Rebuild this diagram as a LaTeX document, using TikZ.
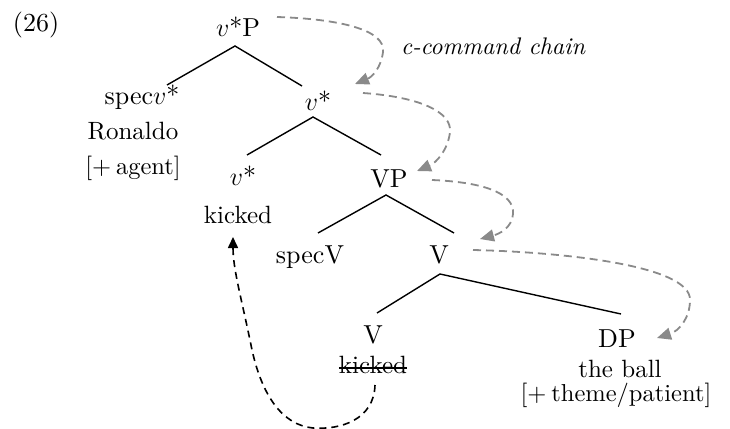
\RequirePackage{fix-cm}
\documentclass[tikz,border=0pt]{standalone}
\usepackage{fontspec}
\setmainfont{lmroman10-regular}[Extension=.otf, ItalicFont=lmroman10-italic]
\usetikzlibrary{arrows.meta}
\definecolor{chaingray}{HTML}{8A8A8A}
\begin{document}
\begin{tikzpicture}[x=1pt,y=1pt,
  lab/.style={anchor=base,inner sep=0pt,font=\fontsize{26}{28}\selectfont},
  word/.style={anchor=base,inner sep=0pt,font=\fontsize{25}{27}\selectfont},
  feat/.style={anchor=base,inner sep=0pt,font=\fontsize{24.5}{26}\selectfont},
  chainlab/.style={anchor=base,inner sep=0pt,font=\fontsize{24}{26}\selectfont\itshape},
  branch/.style={line width=1.4pt},
  strike/.style={line width=1.3pt},
  chain/.style={draw=chaingray, line width=1.8pt, dash pattern=on 8pt off 5pt,
    -{Triangle[length=14pt,width=12pt]}},
  move/.style={draw=black, line width=1.6pt, dash pattern=on 7pt off 5pt,
    -{Triangle[length=11pt,width=10pt]}}]
\useasboundingbox (0,0) rectangle (730,-428);

% labels
\node[lab] (ex) at (36,-32) {(26)};
\node[lab] (vP) at (238,-37) {$v$*P};
\node[lab] (specv) at (142,-104) {spec$v$*};
\node[word] (ron) at (133,-139) {Ronaldo};
\node[feat] (agent) at (133,-174) {[+\hspace{0.2em}agent]};
\node[lab] (vbar) at (318,-110) {$v$*};
\node[lab] (vhead) at (243,-185) {$v$*};
\node[word] (kk1) at (238,-223) {kicked};
\node[lab] (VP) at (389,-187) {VP};
\node[lab] (specV) at (310,-263) {specV};
\node[lab] (Vbar) at (439,-263) {V};
\node[lab] (Vlow) at (373,-343) {V};
\node[word] (kk2) at (373,-373) {kicked};
\node[lab] (DP) at (617,-347) {DP};
\node[word] (ball) at (620,-377) {the ball};
\node[feat] (theme) at (616,-401) {[+\hspace{0.2em}theme/patient]};
\node[chainlab] (cc) at (493,-55) {c-command chain};

% strike-through of the moved verb
\draw[strike] ([yshift=5pt]kk2.base west) -- ([yshift=5pt]kk2.base east);

% branch points
\coordinate (vPv) at (235,-46);
\coordinate (vbarv) at (313,-117);
\coordinate (VPv) at (386,-195);
\coordinate (Vbarv) at (440,-274);
\coordinate (e1) at (167,-85);
\coordinate (e2) at (302,-86);
\coordinate (e3) at (247,-155);
\coordinate (e4) at (381,-155);
\coordinate (e5) at (318,-233);
\coordinate (e6) at (454,-233);
\coordinate (e7) at (377,-313);
\coordinate (e8) at (621,-314);

\draw[branch] (e1) -- (vPv) -- (e2);
\draw[branch] (e3) -- (vbarv) -- (e4);
\draw[branch] (e5) -- (VPv) -- (e6);
\draw[branch] (e7) -- (Vbarv) -- (e8);

% c-command chain arrows
\coordinate (c1s) at (277,-17);
\coordinate (c1e) at (355,-84);
\coordinate (c2s) at (363,-93);
\coordinate (c2e) at (417,-171);
\coordinate (c3s) at (432,-180);
\coordinate (c3e) at (480,-239);
\coordinate (c4s) at (473,-250);
\coordinate (c4e) at (657,-338);
\draw[chain] (c1s) .. controls (340,-19) and (386,-30) .. (383,-52)
  .. controls (381,-68) and (372,-77) .. (c1e);
\draw[chain] (c2s) .. controls (420,-97) and (452,-112) .. (450,-132)
  .. controls (448,-150) and (436,-163) .. (c2e);
\draw[chain] (c3s) .. controls (480,-182) and (515,-192) .. (513,-214)
  .. controls (512,-228) and (499,-234) .. (c3e);
\draw[chain] (c4s) .. controls (560,-252) and (691,-265) .. (690,-300)
  .. controls (690,-318) and (679,-331) .. (c4e);

% head movement arrow
\coordinate (ms) at (375,-385);
\coordinate (me) at (233,-237);
\draw[move] (ms) .. controls (374,-420) and (340,-430) .. (313,-428)
  .. controls (282,-425) and (262,-395) .. (252,-350)
  .. controls (242,-300) and (233,-270) .. (me);
\end{tikzpicture}
\end{document}
